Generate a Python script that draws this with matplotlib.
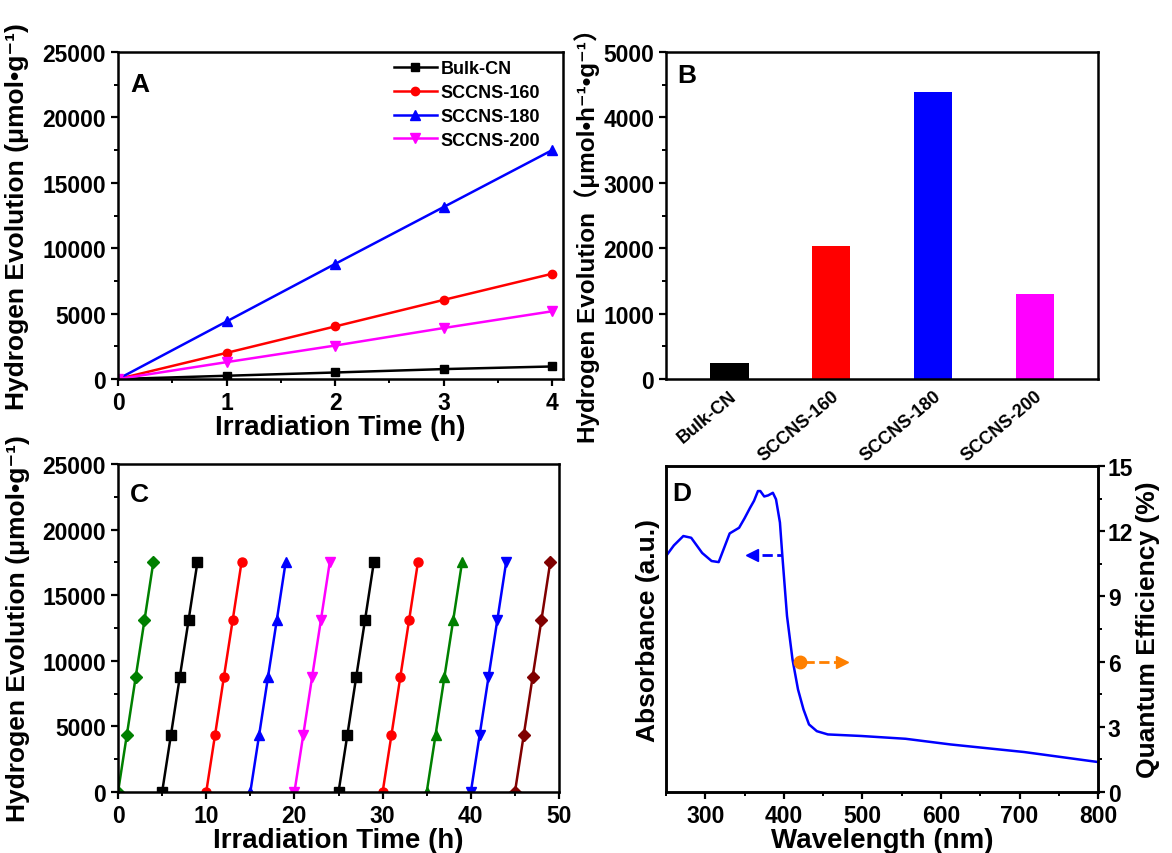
import numpy as np
from matplotlib import pyplot as plt
from matplotlib.ticker import MultipleLocator

plt.rcParams['font.family'] = ['Liberation Sans', 'Noto Sans CJK SC', 'DejaVu Sans']
plt.rcParams['font.weight'] = 'bold'
plt.rcParams['axes.labelweight'] = 'bold'
plt.rcParams['axes.linewidth'] = 1.8
plt.rcParams['xtick.major.width'] = 1.6
plt.rcParams['ytick.major.width'] = 1.6
plt.rcParams['xtick.minor.width'] = 1.4
plt.rcParams['ytick.minor.width'] = 1.4
plt.rcParams['xtick.major.size'] = 5
plt.rcParams['ytick.major.size'] = 5
plt.rcParams['xtick.minor.size'] = 3
plt.rcParams['ytick.minor.size'] = 3

# A: 产氢量随时间
hours = [0, 1, 2, 3, 4]
bulk_cn = [0, 250, 500, 760, 960]
sccns_160 = [0, 2000, 4020, 6050, 8050]
sccns_180 = [0, 4400, 8800, 13150, 17500]
sccns_200 = [0, 1290, 2560, 3900, 5180]

# B: 产氢速率
samples = ['Bulk-CN', 'SCCNS-160', 'SCCNS-180', 'SCCNS-200']
rates = [250, 2030, 4390, 1300]
bar_colors = ['black', 'red', 'blue', 'magenta']

# C: 循环稳定性, 10 个循环, 每个 4 h
cycle_hours = [0, 1, 2, 3, 4]
cycle_h2 = [0, 4350, 8750, 13100, 17500]
cycle_colors = ['#008000', 'black', 'red', 'blue', 'magenta',
                'black', 'red', '#008000', 'blue', '#800000']
cycle_markers = ['D', 's', 'o', '^', 'v', 's', 'o', '^', 'v', 'D']

# D: 紫外可见吸收 + 量子效率
wavelength = [250, 260, 272, 282, 296, 308, 317, 324, 331, 343, 350, 357, 362,
              367, 370, 375, 380, 386, 390, 395, 398, 404, 411, 418, 425, 432,
              442, 456, 498, 555, 612, 706, 800]
absorbance = [10.86, 11.35, 11.78, 11.7, 11.0, 10.63, 10.58, 11.24, 11.9, 12.16,
              12.6, 13.08, 13.4, 13.85, 13.85, 13.6, 13.65, 13.77, 13.47, 12.4,
              10.9, 8.1, 6.1, 4.72, 3.8, 3.11, 2.8, 2.65, 2.58, 2.45, 2.19, 1.84, 1.38]
qe_wavelength = [420]
qe_value = [6.0]

fig = plt.figure(figsize=(11.72, 8.54), dpi=100)
axA = fig.add_axes([0.1007, 0.555, 0.3797, 0.3829])
axB = fig.add_axes([0.5683, 0.555, 0.3686, 0.3829])
axC = fig.add_axes([0.1007, 0.0714, 0.3763, 0.3841])
axD = fig.add_axes([0.5683, 0.0714, 0.3686, 0.3817])

ylab_g = 'Hydrogen Evolution (μmol•g⁻¹)'
tick_fs = 16.5
lab_fs = 19

# ---- A ----
axA.plot(hours, bulk_cn, color='black', marker='s', ms=6, lw=1.8, label='Bulk-CN')
axA.plot(hours, sccns_160, color='red', marker='o', ms=6, lw=1.8, label='SCCNS-160')
axA.plot(hours, sccns_180, color='blue', marker='^', ms=7, lw=1.8, label='SCCNS-180')
axA.plot(hours, sccns_200, color='magenta', marker='v', ms=7, lw=1.8, label='SCCNS-200')
axA.set_xlim(0, 4.1)
axA.set_ylim(0, 25000)
axA.xaxis.set_major_locator(MultipleLocator(1))
axA.xaxis.set_minor_locator(MultipleLocator(0.5))
axA.yaxis.set_major_locator(MultipleLocator(5000))
axA.yaxis.set_minor_locator(MultipleLocator(2500))
axA.tick_params(labelsize=tick_fs)
axA.set_xlabel('Irradiation Time (h)', fontsize=20, labelpad=0)
axA.set_ylabel(ylab_g, fontsize=lab_fs)
axA.yaxis.set_label_coords(-0.2, 0.5)
axA.legend(loc='upper right', bbox_to_anchor=(0.985, 1.025), frameon=False,
           prop={'size': 13, 'weight': 'bold'}, handlelength=2.4,
           labelspacing=0.38, handletextpad=0.2)
axA.text(0.027, 0.94, 'A', transform=axA.transAxes, fontsize=19, va='top')

# ---- B ----
xb = np.arange(len(samples))
axB.bar(xb, rates, width=0.38, color=bar_colors)
axB.set_xlim(-0.62, 3.62)
axB.set_ylim(0, 5000)
axB.yaxis.set_major_locator(MultipleLocator(1000))
axB.yaxis.set_minor_locator(MultipleLocator(500))
axB.set_xticks(xb)
axB.set_xticklabels(samples, rotation=40, ha='right', rotation_mode='anchor', fontsize=13)
axB.tick_params(axis='x', length=0, pad=6)
axB.tick_params(axis='y', labelsize=tick_fs)
axB.set_ylabel('Hydrogen Evolution（μmol•h⁻¹•g⁻¹）', fontsize=17.5)
axB.yaxis.set_label_coords(-0.153, 0.46)
axB.text(0.025, 0.965, 'B', transform=axB.transAxes, fontsize=19, va='top')

# ---- C ----
for k in range(len(cycle_colors)):
    xs = [5 * k + h for h in cycle_hours]
    axC.plot(xs, cycle_h2, color=cycle_colors[k], marker=cycle_markers[k],
             ms=6.5, lw=1.8)
axC.set_xlim(0, 50)
axC.set_ylim(0, 25000)
axC.xaxis.set_major_locator(MultipleLocator(10))
axC.xaxis.set_minor_locator(MultipleLocator(5))
axC.yaxis.set_major_locator(MultipleLocator(5000))
axC.yaxis.set_minor_locator(MultipleLocator(2500))
axC.tick_params(labelsize=tick_fs)
axC.set_xlabel('Irradiation Time (h)', fontsize=20, labelpad=0)
axC.set_ylabel(ylab_g, fontsize=lab_fs)
axC.yaxis.set_label_coords(-0.2, 0.5)
axC.text(0.026, 0.945, 'C', transform=axC.transAxes, fontsize=19, va='top')

# ---- D ----
axD.plot(wavelength, absorbance, color='blue', lw=1.8)
axD.set_xlim(250, 800)
axD.set_ylim(0, 15)
axD.xaxis.set_major_locator(MultipleLocator(100))
axD.xaxis.set_minor_locator(MultipleLocator(50))
axD.tick_params(axis='x', labelsize=tick_fs)
axD.set_xlabel('Wavelength (nm)', fontsize=20, labelpad=0)

axD2 = axD.twinx()
axD2.set_ylim(0, 15)
axD2.yaxis.set_major_locator(MultipleLocator(3))
axD2.yaxis.set_minor_locator(MultipleLocator(1.5))
axD2.tick_params(axis='y', labelsize=tick_fs, pad=2)
axD2.set_ylabel('Quantum Efficiency (%)', fontsize=lab_fs, labelpad=2)
axD2.plot(qe_wavelength, qe_value, 'o', color='#FF8000', ms=9)

# twinx 会重新打开左侧刻度, 之后再关
axD.tick_params(axis='y', which='both', left=False, labelleft=False)
axD.set_ylabel('Absorbance (a.u.)', fontsize=lab_fs)
axD.yaxis.set_label_coords(-0.014, 0.5)
axD.text(0.014, 0.955, 'D', transform=axD.transAxes, fontsize=19, va='top')

# 指示箭头
axD.plot([372, 397], [10.9, 10.9], ls='--', color='blue', lw=2)
axD.plot([360], [10.9], marker='<', color='blue', ms=9)
axD2.plot([425, 470], [6.0, 6.0], ls='--', color='#FF8000', lw=2)
axD2.plot([474], [6.0], marker='>', color='#FF8000', ms=9)

fig.savefig('out.png', dpi=100)
